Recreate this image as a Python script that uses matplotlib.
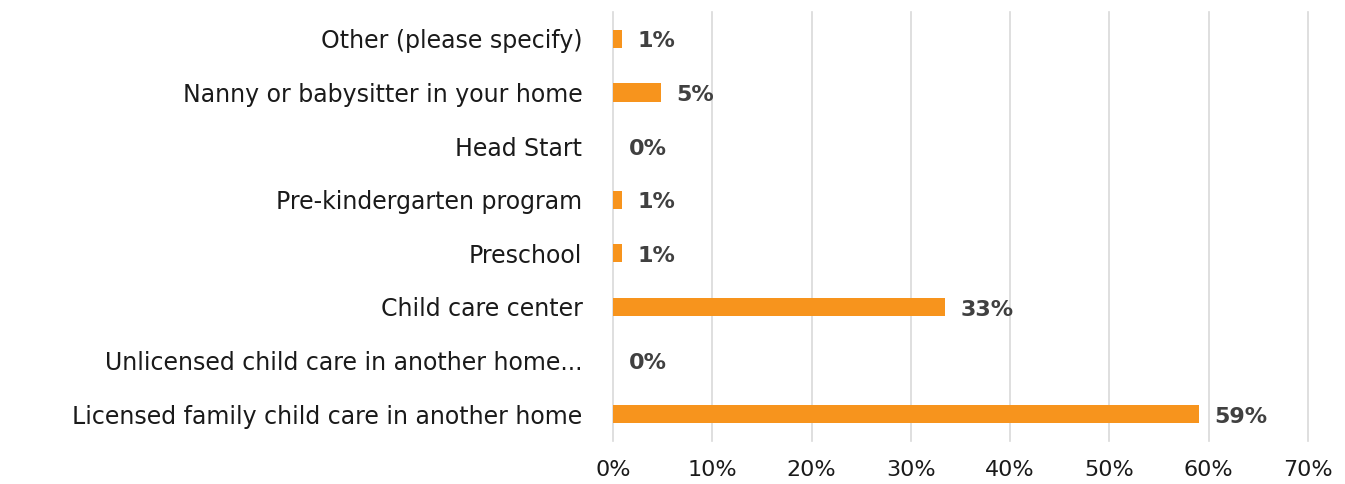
import matplotlib.pyplot as plt
from matplotlib.ticker import PercentFormatter

# care arrangements, listed bottom to top
categories = [
    "Licensed family child care in another home",
    "Unlicensed child care in another home...",
    "Child care center",
    "Preschool",
    "Pre-kindergarten program",
    "Head Start",
    "Nanny or babysitter in your home",
    "Other (please specify)",
]
shares = [59.0, 0.0, 33.4, 0.9, 0.9, 0.0, 4.8, 0.9]

plt.rcParams["font.family"] = ["DejaVu Sans"]

fig = plt.figure(figsize=(13.45, 4.84), dpi=100)
ax = fig.add_axes([0.4558, 0.0888, 0.5167, 0.8864])

ypos = range(len(categories))
ax.barh(ypos, shares, height=0.34, color="#F7941D", zorder=3)

for y, v in zip(ypos, shares):
    ax.text(v + 1.6, y - 0.05, f"{v:.0f}%", va="center", ha="left",
            fontsize=16, fontweight="bold", color="#404040", zorder=4)

ax.set_xlim(0, 70)
ax.set_ylim(-0.5, len(categories) - 0.5)
ax.set_xticks(range(0, 71, 10))
ax.xaxis.set_major_formatter(PercentFormatter(decimals=0))
ax.set_yticks(list(ypos))
ax.set_yticklabels(categories, fontsize=17)

ax.grid(axis="x", color="#D9D9D9", linewidth=1.2, zorder=0, clip_on=False)
for s in ax.spines.values():
    s.set_visible(False)
ax.tick_params(axis="x", length=0, labelsize=16, colors="#1a1a1a", pad=14)
ax.tick_params(axis="y", length=0, colors="#1a1a1a", pad=22)

plt.savefig("out.png", dpi=100)
